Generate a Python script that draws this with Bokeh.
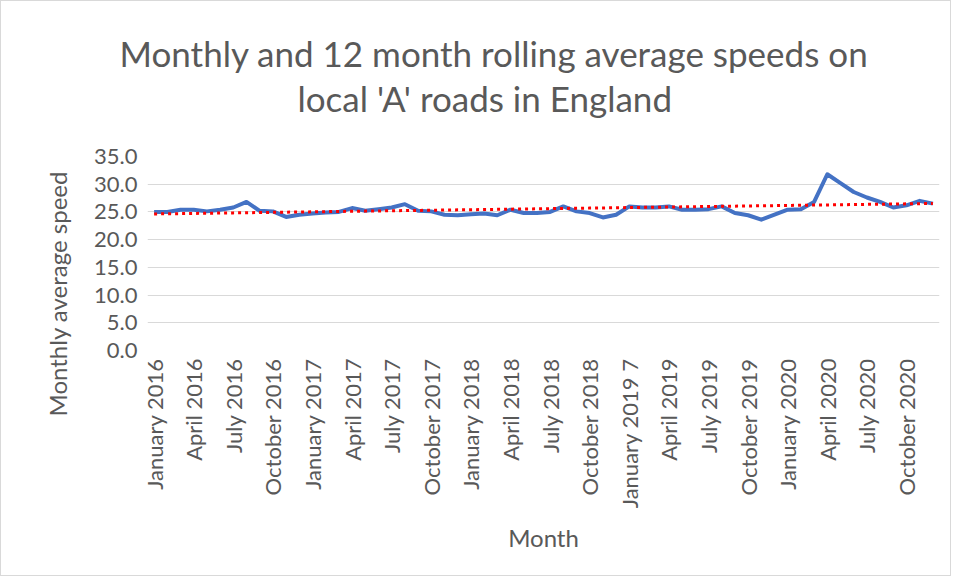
import numpy as np
from bokeh.plotting import figure
from bokeh.models import Title, FixedTicker, Range1d, NumeralTickFormatter
from bokeh.embed import file_html
from bokeh.resources import INLINE

# ---- data ----
month_index = list(range(60))  # January 2016 .. December 2020
speed = [25.0, 25.0, 25.4, 25.4, 25.1, 25.4, 25.8, 26.8, 25.2, 25.1, 24.1, 24.5,
         24.7, 24.9, 25.0, 25.7, 25.2, 25.5, 25.8, 26.4, 25.2, 25.1, 24.5, 24.4,
         24.6, 24.7, 24.4, 25.4, 24.8, 24.8, 25.0, 26.0, 25.1, 24.8, 24.0, 24.5,
         26.0, 25.8, 25.8, 26.0, 25.4, 25.4, 25.5, 26.0, 24.8, 24.4, 23.6, 24.5,
         25.4, 25.5, 26.8, 31.8, 30.2, 28.6, 27.6, 26.8, 25.8, 26.2, 27.0, 26.5]
tick_positions = list(range(0, 60, 3))
tick_labels = ["January 2016", "April 2016", "July 2016", "October 2016",
               "January 2017", "April 2017", "July 2017", "October 2017",
               "January 2018", "April 2018", "July 2018", "October 2018",
               "January 2019 7", "April 2019", "July 2019", "October 2019",
               "January 2020", "April 2020", "July 2020", "October 2020"]
y_ticks = [0, 5, 10, 15, 20, 25, 30, 35]
title_lines = ["Monthly and 12 month rolling average speeds on",
               "local 'A' roads in England"]

# linear trend line (least squares, as in the spreadsheet)
coef = np.polyfit(month_index, speed, 1)
trend = list(np.polyval(coef, month_index))

FONT = "Lato"
GREY = "#595959"

W, H = 951, 576
p = figure(width=W, height=H, output_backend="svg", toolbar_location=None,
           x_range=Range1d(-0.5, 59.5), y_range=Range1d(0, 35),
           min_border_left=146, min_border_right=W - 938,
           min_border_top=155, min_border_bottom=H - 349)
p.styles = {"border": "1px solid #d9d9d9", "box-sizing": "border-box"}
p.outline_line_color = None
p.background_fill_color = "white"
p.border_fill_color = "white"

p.line(month_index, speed, line_color="#4472C4", line_width=4, line_join="round")
p.line(month_index, trend, line_color="#FF0000", line_width=3, line_dash="3 4")

# axes
p.xaxis.ticker = FixedTicker(ticks=tick_positions)
p.xaxis.major_label_overrides = {t: l for t, l in zip(tick_positions, tick_labels)}
p.xaxis.major_label_orientation = np.pi / 2
p.yaxis.ticker = FixedTicker(ticks=y_ticks)
p.yaxis.formatter = NumeralTickFormatter(format="0.0")
for ax in (p.xaxis, p.yaxis):
    ax.axis_line_color = None
    ax.major_tick_line_color = None
    ax.minor_tick_line_color = None
    ax.major_tick_out = 0
    ax.major_tick_in = 0
    ax.major_label_text_font = FONT
    ax.major_label_text_font_size = "22px"
    ax.major_label_text_color = GREY
p.xaxis.major_label_standoff = 8
p.yaxis.major_label_standoff = 10

p.xaxis.axis_label = "Month"
p.xaxis.axis_label_text_font = FONT
p.xaxis.axis_label_text_font_size = "24px"
p.xaxis.axis_label_text_font_style = "normal"
p.xaxis.axis_label_text_color = GREY
p.xaxis.axis_label_standoff = 12

p.xgrid.grid_line_color = None
p.ygrid.ticker = FixedTicker(ticks=y_ticks)
p.ygrid.grid_line_color = "#d9d9d9"
p.ygrid.grid_line_width = 1

# y-axis title (left side), positioned like the reference
p.add_layout(Title(text="Monthly average speed", align="left", offset=-66,
                   text_font=FONT, text_font_size="24px", text_color=GREY,
                   text_font_style="normal", standoff=40), "left")

# chart title: two lines, inner line added first
p.add_layout(Title(text=title_lines[1], align="left", offset=150,
                   text_font=FONT, text_font_size="35px", text_color=GREY,
                   text_font_style="normal", standoff=76), "above")
p.add_layout(Title(text=title_lines[0], align="left", offset=-28,
                   text_font=FONT, text_font_size="35px", text_color=GREY,
                   text_font_style="normal", standoff=-74), "above")

open("out.html", "w").write(file_html(p, INLINE))
